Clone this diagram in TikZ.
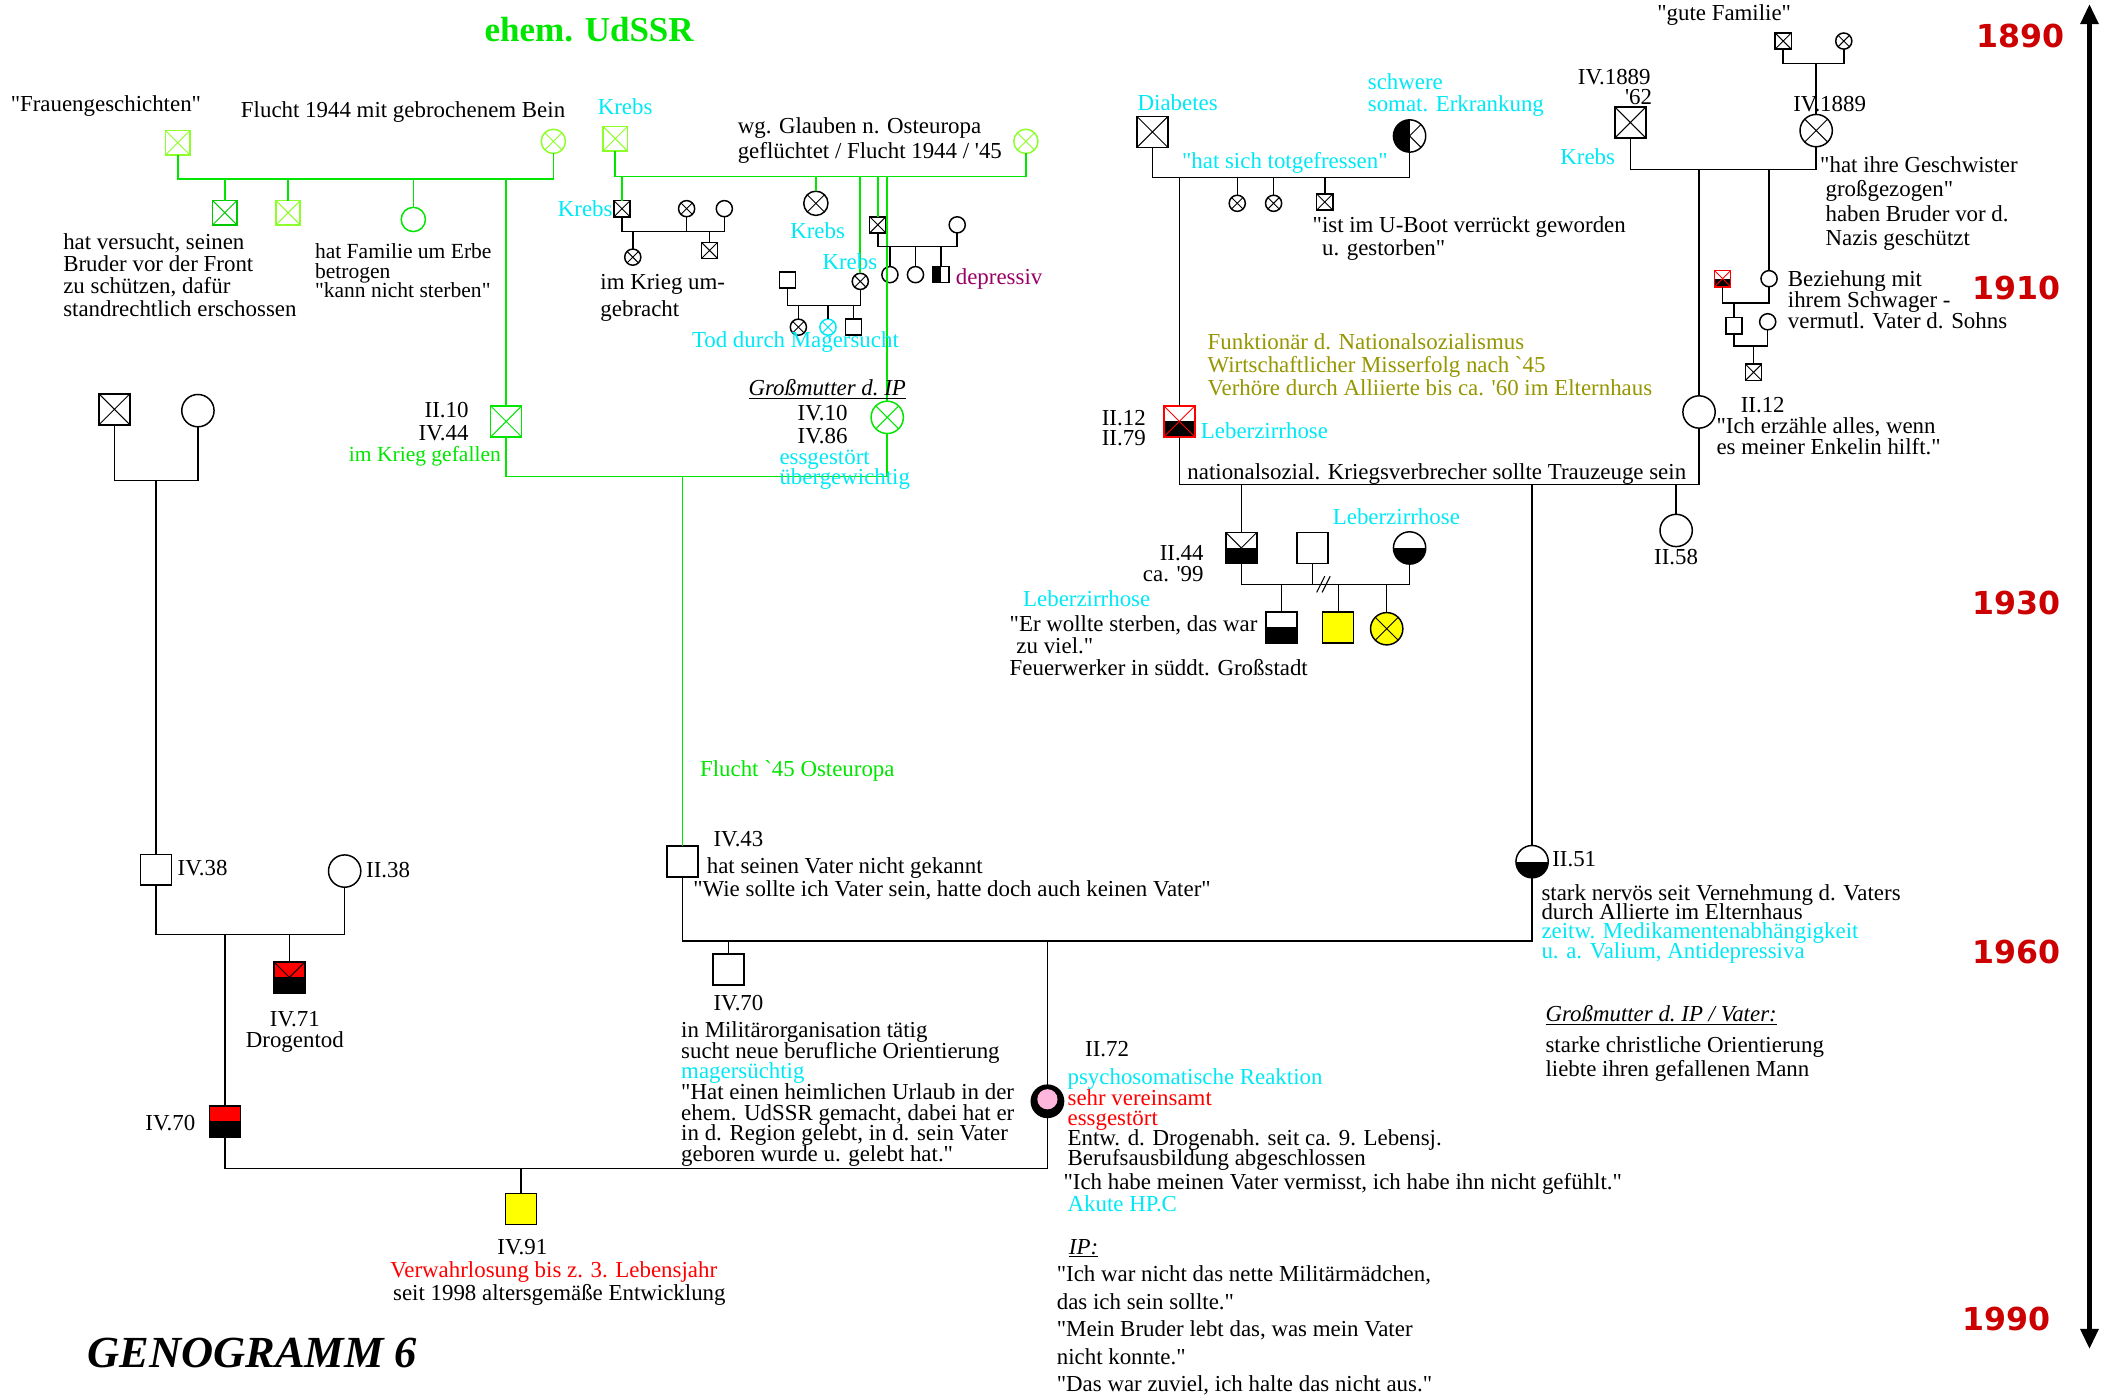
\documentclass[tikz,border=0pt]{standalone}
\usepackage{fontspec}
\setmainfont{Liberation Serif}[Ligatures=TeXOff]
\newfontfamily\yearfont{DejaVu Sans}
\usepackage{xcolor}
\usetikzlibrary{arrows.meta,positioning}

\definecolor{ggreen}{RGB}{0,230,0}
\definecolor{glight}{RGB}{140,255,40}
\definecolor{gdark}{RGB}{0,200,0}
\definecolor{kcyan}{RGB}{0,232,245}
\definecolor{purplered}{RGB}{153,0,102}
\definecolor{oliv}{RGB}{150,150,0}
\definecolor{yearred}{RGB}{204,0,0}
\definecolor{ippink}{RGB}{255,182,220}
\definecolor{gyellow}{RGB}{255,255,0}

\newcommand{\fs}[2]{\fontsize{#1}{#2}\selectfont\lineskiplimit=-50pt\lineskip=0pt\relax}
\newcommand{\gfont}{\fs{17}{16.5}}
\newcommand{\crosspp}[1]{\draw[#1,line width=0.7pt] (path picture bounding box.north west) -- (path picture bounding box.south east) (path picture bounding box.north east) -- (path picture bounding box.south west);}
\newcommand{\lowerpp}[1]{\fill[#1] (path picture bounding box.west) rectangle (path picture bounding box.south east);}
\newcommand{\upperpp}[1]{\fill[#1] (path picture bounding box.north west) rectangle (path picture bounding box.east);}
\newcommand{\leftpp}[1]{\fill[#1] (path picture bounding box.north west) rectangle (path picture bounding box.south);}

\tikzset{
    person/.style={draw, line width=1.1pt, inner sep=0pt, outer sep=0pt},
    male/.style={person, rectangle, minimum size=23pt},
    female/.style={person, circle, minimum size=24pt},
    midm/.style={male, minimum size=18pt},
    midf/.style={female, minimum size=18pt},
    smallm/.style={male, minimum size=12pt},
    smallf/.style={female, minimum size=12pt},
    dead/.style={path picture={\crosspp{#1}}},
    dead/.default=black,
    lowhalf/.style={path picture={\lowerpp{black}}},
    lowdead/.style={path picture={\lowerpp{black}\crosspp{#1}}},
    lowdead/.default=black,
    lefthalf/.style={path picture={\leftpp{black}}},
    leftdead/.style={path picture={\leftpp{black}\crosspp{black}}},
    redblack/.style={path picture={\upperpp{red}\lowerpp{black}}},
    redblackdead/.style={path picture={\upperpp{red}\lowerpp{black}\crosspp{black}}},
    redx/.style={draw=red, path picture={\lowerpp{black}\crosspp{red}}},
    ip/.style={fill=black, path picture={\fill[ippink] ([yshift=1.5pt]path picture bounding box.center) circle (7.5pt);}},
    bline/.style={line width=1.1pt},
    gline/.style={line width=1.2pt, draw=ggreen},
    lbl/.style={inner sep=0pt, outer sep=0pt, anchor=west, font=\gfont},
    blk/.style={lbl, anchor=north west, align=left},
    year/.style={lbl, text=yearred, font=\yearfont\bfseries\fontsize{23.5}{24}\selectfont}
}

\begin{document}
\begin{tikzpicture}[x=1pt,y=-1pt]
    \useasboundingbox (0,0) rectangle (1568,1039);

    % marriage lines
    \coordinate (mTL) at (0,133);
    \coordinate (mTM) at (0,131);
    \coordinate (mK1) at (0,172);
    \coordinate (mK7) at (0,227);
    \coordinate (mK12) at (0,183);
    \coordinate (mGrand) at (0,354);
    \coordinate (mP) at (0,357);
    \coordinate (mIV38) at (0,694);
    \coordinate (mIV43) at (0,699);
    \coordinate (mIP) at (0,868);
    \coordinate (mRA) at (0,132);
    \coordinate (mII12) at (0,360);
    \coordinate (mII44) at (0,434);
    \coordinate (mGute) at (0,47);
    \coordinate (m1889) at (0,126);
    \coordinate (mU) at (0,225);
    \coordinate (mU3) at (0,257);

    % persons
    \node[midm, draw=glight, dead=glight] (gA) at (132,106) {};
    \node[midf, draw=glight, dead=glight] (gB) at (411,105) {};
    \node[midm, draw=gdark, dead=gdark] (gC) at (167,158) {};
    \node[midm, draw=glight, dead=glight] (gD) at (214,158) {};
    \node[midf, draw=ggreen] (gE) at (307,163) {};
    \node[male, draw=ggreen, dead=ggreen] (II10) at (376,313) {};

    \node[midm, draw=glight, dead=glight] (gF) at (457,103) {};
    \node[midf, draw=glight, dead=glight] (gG) at (762,105) {};
    \node[smallm, dead] (k1) at (462,155) {};
    \node[smallf, dead] (k2) at (510,155) {};
    \node[smallf] (k3) at (538,155) {};
    \node[smallf, dead] (k4) at (470,191) {};
    \node[smallm, dead] (k5) at (527,186) {};
    \node[midf, dead] (k6) at (606,151) {};
    \node[smallf, dead] (k7) at (639,209) {};
    \node[smallm] (k8) at (585,208) {};
    \node[smallf, dead] (k9) at (593,243) {};
    \node[smallf, draw=kcyan, dead=kcyan] (k10) at (615,243) {};
    \node[smallm] (k11) at (634,243) {};
    \node[smallm, dead] (k12) at (652,167) {};
    \node[smallf] (k13) at (711,167) {};
    \node[smallf] (k14) at (661,204) {};
    \node[smallf] (k15) at (680,204) {};
    \node[smallm, lefthalf] (k16) at (699,204) {};
    \node[female, draw=ggreen, dead=ggreen] (IV10) at (659,310) {};

    \node[male, dead] (p1) at (85,304) {};
    \node[female] (p2) at (147,305) {};
    \node[male] (IV38) at (116,646) {};
    \node[female] (II38) at (256,647) {};
    \node[male, redblackdead] (IV71) at (215,726) {};
    \node[male, redblack] (IV70L) at (167,833) {};
    \node[male, fill=gyellow] (IV91) at (387,898) {};
    \node[male] (IV43) at (507,640) {};
    \node[male] (IV70M) at (541,720) {};
    \node[female, ip] (II72) at (778,818) {};

    \node[male, dead] (rA) at (856,98) {};
    \node[female, leftdead] (rB) at (1047,101) {};
    \node[smallf, dead] (r1) at (919,151) {};
    \node[smallf, dead] (r2) at (946,151) {};
    \node[smallm, dead] (r3) at (984,150) {};
    \node[male, redx] (II12L) at (876,313) {};
    \node[female] (II12R) at (1262,306) {};
    \node[female] (II58) at (1245,394) {};
    \node[female, lowhalf] (II51) at (1138,640) {};
    \node[male, lowdead] (II44) at (922,407) {};
    \node[male] (s1) at (975,407) {};
    \node[female, lowhalf] (c1) at (1047,407) {};
    \node[male, lowhalf] (q1) at (952,466) {};
    \node[male, fill=gyellow] (q2) at (994,466) {};
    \node[female, fill=gyellow, dead] (q3) at (1030,467) {};

    \node[smallm, dead] (tA) at (1324.5,30.5) {};
    \node[smallf, dead] (tB) at (1369.5,30.5) {};
    \node[male, dead] (IV1889L) at (1211,91) {};
    \node[female, dead] (IV1889R) at (1349,97) {};
    \node[smallf] (u1) at (1314,207) {};
    \node[smallm, redx] (u2) at (1279.5,207) {};
    \node[smallm] (u3) at (1288,242) {};
    \node[smallf] (u4) at (1313,239) {};
    \node[smallm, dead] (u5) at (1302.5,276.5) {};

    % green lines
    \draw[gline] (gA) -- (gA |- mTL) -| (gB);
    \draw[gline] (gC) -- (gC |- mTL);
    \draw[gline] (gD) -- (gD |- mTL);
    \draw[gline] (gE) -- (gE |- mTL);
    \draw[gline] (II10) -- (II10 |- mTL);
    \draw[gline] (II10) -- (II10 |- mGrand) -| (IV10);
    \draw[gline] (IV43) -- (IV43 |- mGrand);
    \draw[gline] (gF) -- (gF |- mTM) -| (gG);
    \draw[gline] (k1) -- (k1 |- mTM);
    \draw[gline] (k6) -- (k6 |- mTM);
    \draw[gline] (k7) -- (k7 |- mTM);
    \draw[gline] (k12) -- (k12 |- mTM);
    \draw[gline] (IV10) -- (IV10 |- mTM);

    % black lines
    \draw[bline] (k1) -- (k1 |- mK1) -| (k3);
    \draw[bline] (k2) -- (k2 |- mK1);
    \draw[bline] (k4) -- (k4 |- mK1);
    \draw[bline] (k5) -- (k5 |- mK1);
    \draw[bline] (k8) -- (k8 |- mK7) -| (k7);
    \draw[bline] (k9) -- (k9 |- mK7);
    \draw[bline] (k10) -- (k10 |- mK7);
    \draw[bline] (k11) -- (k11 |- mK7);
    \draw[bline] (k12) -- (k12 |- mK12) -| (k13);
    \draw[bline] (k14) -- (k14 |- mK12);
    \draw[bline] (k15) -- (k15 |- mK12);
    \draw[bline] (k16) -- (k16 |- mK12);

    \draw[bline] (p1) -- (p1 |- mP) -| (p2);
    \draw[bline] (IV38) -- (IV38 |- mP);
    \draw[bline] (IV38) -- (IV38 |- mIV38) -| (II38);
    \draw[bline] (IV70L) -- (IV70L |- mIV38);
    \draw[bline] (IV71) -- (IV71 |- mIV38);
    \draw[bline] (IV70L) -- (IV70L |- mIP) -| (II72);
    \draw[bline] (IV91) -- (IV91 |- mIP);
    \draw[bline] (IV43) -- (IV43 |- mIV43) -| (II51);
    \draw[bline] (IV70M) -- (IV70M |- mIV43);
    \draw[bline] (II72) -- (II72 |- mIV43);

    \draw[bline] (rA) -- (rA |- mRA) -| (rB);
    \draw[bline] (r1) -- (r1 |- mRA);
    \draw[bline] (r2) -- (r2 |- mRA);
    \draw[bline] (r3) -- (r3 |- mRA);
    \draw[bline] (II12L) -- (II12L |- mRA);
    \draw[bline] (II12L) -- (II12L |- mII12) -| (II12R);
    \draw[bline] (II44) -- (II44 |- mII12);
    \draw[bline] (II51) -- (II51 |- mII12);
    \draw[bline] (II58) -- (II58 |- mII12);
    \draw[bline] (II44) -- (II44 |- mII44) -| (c1);
    \draw[bline] (s1) -- (s1 |- mII44);
    \draw[bline] (q1) -- (q1 |- mII44);
    \draw[bline] (q2) -- (q2 |- mII44);
    \draw[bline] (q3) -- (q3 |- mII44);
    \coordinate (div) at (983,434);
    \draw[line width=0.8pt] ([xshift=-5pt,yshift=-6pt]div) -- ([xshift=1pt,yshift=6pt]div)
        ([xshift=-1pt,yshift=-6pt]div) -- ([xshift=5pt,yshift=6pt]div);

    \draw[bline] (tA) -- (tA |- mGute) -| (tB);
    \draw[bline] (IV1889R) -- (IV1889R |- mGute);
    \draw[bline] (IV1889L) -- (IV1889L |- m1889) -| (IV1889R);
    \draw[bline] (II12R) -- (II12R |- m1889);
    \draw[bline] (u1) -- (u1 |- m1889);
    \draw[bline] (u2) -- (u2 |- mU) -| (u1);
    \draw[bline] (u3) -- (u3 |- mU);
    \draw[bline] (u3) -- (u3 |- mU3) -| (u4);
    \draw[bline] (u5) -- (u5 |- mU3);

    % time axis
    \coordinate (tTop) at (1552,3);
    \coordinate (tBot) at (1552,1002);
    \draw[{Triangle[width=13pt,length=15pt]}-{Triangle[width=13pt,length=15pt]}, line width=3.5pt] (tTop) -- (tBot);
    \node[year] (y1890) at (1468,27) {1890};
    \node[year] (y1910) at (1465,214) {1910};
    \node[year] (y1930) at (1465,448) {1930};
    \node[year] (y1960) at (1465,707) {1960};
    \node[year] (y1990) at (1458,980) {1990};

    % texts, top left
    \node[lbl, text=ggreen, font=\bfseries\fontsize{26}{26}\selectfont] (udssr) at (360,22) {ehem. UdSSR};
    \node[lbl] (tFrau) at (8,79) {"Frauengeschichten"};
    \node[lbl] (tFlucht) at (179,83) {Flucht 1944 mit gebrochenem Bein};
    \node[blk] (tBruder) at (47,173.5) {hat versucht, seinen\\Bruder vor der Front\\zu schützen, dafür\\standrechtlich erschossen};
    \node[blk, font=\fs{16}{14.5}] (tErbe) at (234,181) {hat Familie um Erbe\\betrogen\\"kann nicht sterben"};
    \node[blk, anchor=north east, align=right, font=\fs{17}{17}] (tII10) at (348,299) {II.10\\IV.44};
    \node[lbl, anchor=east, text=ggreen, font=\fs{16}{16}] (tGefallen) at (372,339) {im Krieg gefallen};

    % texts, top middle
    \node[lbl, text=kcyan] (tKrebs1) at (444,79) {Krebs};
    \node[blk, font=\fs{17}{19}] (tGlauben) at (548,87) {wg. Glauben n. Osteuropa\\geflüchtet / Flucht 1944 / '45};
    \node[lbl, anchor=east, text=kcyan] (tKrebs2) at (455,155) {Krebs};
    \node[blk, font=\fs{17}{20}] (tUmgebracht) at (446,204) {im Krieg um-\\gebracht};
    \node[lbl, text=kcyan] (tKrebs3) at (587,171) {Krebs};
    \node[lbl, text=kcyan] (tKrebs4) at (611,194) {Krebs};
    \node[lbl, text=kcyan] (tMager) at (514,254) {Tod durch Magersucht};
    \node[lbl, text=purplered] (tDepr) at (710,207) {depressiv};
    \node[lbl] (tGrossIP) at (556,289) {\underline{\itshape Großmutter d.\ IP}};
    \node[blk, anchor=north, align=center, font=\fs{17}{17}] (tIV10) at (611,301) {IV.10\\IV.86};
    \node[blk, text=kcyan, font=\fs{17}{15}] (tEss) at (579,334) {essgestört\\übergewichtig};
    \node[lbl, text=ggreen] (tFlucht45) at (520,573) {Flucht `45 Osteuropa};

    % texts, IV.43 and IP
    \node[lbl] (tIV43) at (530,623) {IV.43};
    \node[lbl] (tVater1) at (525,645) {hat seinen Vater nicht gekannt};
    \node[lbl] (tVater2) at (515,661) {"Wie sollte ich Vater sein, hatte doch auch keinen Vater"};
    \node[lbl] (tIV70M) at (530,745) {IV.70};
    \node[blk, font=\fs{17}{15.3}] (tMilitaer) at (506,759) {in Militärorganisation tätig\\sucht neue berufliche Orientierung\\\textcolor{kcyan}{magersüchtig}\\"Hat einen heimlichen Urlaub in der\\ehem. UdSSR gemacht, dabei hat er\\in d. Region gelebt, in d. sein Vater\\geboren wurde u. gelebt hat."};
    \node[lbl] (tII72) at (806,779) {II.72};
    \node[blk, font=\fs{17}{15}] (tPsycho) at (793,794) {\textcolor{kcyan}{psychosomatische Reaktion}\\\textcolor{red}{sehr vereinsamt}\\\textcolor{red}{essgestört}\\Entw. d. Drogenabh. seit ca. 9. Lebensj.\\Berufsausbildung abgeschlossen};
    \node[lbl] (tVermisst) at (790,879) {"Ich habe meinen Vater vermisst, ich habe ihn nicht gefühlt."};
    \node[lbl, text=kcyan] (tHPC) at (793,894) {Akute HP.C};
    \node[lbl] (tIP) at (794,927) {\underline{\itshape IP:}};
    \node[blk, font=\fs{17}{20.5}] (tIPquote) at (785,940) {"Ich war nicht das nette Militärmädchen,\\das ich sein sollte."\\"Mein Bruder lebt das, was mein Vater\\nicht konnte."\\"Das war zuviel, ich halte das nicht aus."};

    % texts, left bottom
    \node[lbl] (tIV38) at (132,645) {IV.38};
    \node[lbl] (tII38) at (272,646) {II.38};
    \node[blk, anchor=north, align=center, font=\fs{17}{16}] (tIV71) at (219,751) {IV.71\\Drogentod};
    \node[lbl, anchor=east] (tIV70L) at (145,834) {IV.70};
    \node[lbl, anchor=center] (tIV91) at (388,926) {IV.91};
    \node[lbl, text=red] (tVerw) at (290,945) {Verwahrlosung bis z. 3. Lebensjahr};
    \node[lbl] (tSeit) at (292,962) {seit 1998 altersgemäße Entwicklung};
    \node[lbl, font=\bfseries\itshape\fontsize{33}{33}\selectfont] (tGeno) at (65,1005) {GENOGRAMM 6};

    % texts, right middle
    \node[lbl, text=kcyan] (tDiab) at (845,76) {Diabetes};
    \node[blk, text=kcyan, font=\fs{17}{16}] (tSchwer) at (1016,55) {schwere\\somat. Erkrankung};
    \node[lbl, text=kcyan] (tTot) at (878,121) {"hat sich totgefressen"};
    \node[blk, font=\fs{17}{17}] (tUBoot) at (975,161) {"ist im U-Boot verrückt geworden\\\hspace*{7pt}u. gestorben"};
    \node[blk, text=oliv, font=\fs{17}{17}] (tNazi) at (897,248) {Funktionär d. Nationalsozialismus\\Wirtschaftlicher Misserfolg nach `45\\Verhöre durch Alliierte bis ca. '60 im Elternhaus};
    \node[blk, anchor=north east, align=right, font=\fs{17}{15}] (tII12L) at (851,305) {II.12\\II.79};
    \node[lbl, text=kcyan] (tLeber1) at (892,320) {Leberzirrhose};
    \node[lbl] (tTrau) at (882,352) {nationalsozial. Kriegsverbrecher sollte Trauzeuge sein};
    \node[blk, anchor=north east, align=right, font=\fs{17}{16}] (tII44) at (894,405) {II.44\\ca. '99};
    \node[lbl, text=kcyan] (tLeber2) at (990,384) {Leberzirrhose};
    \node[lbl, text=kcyan] (tLeber3) at (760,445) {Leberzirrhose};
    \node[blk] (tSterben) at (750,457) {"Er wollte sterben, das war\\\hspace*{5pt}zu viel."\\Feuerwerker in süddt. Großstadt};
    \node[lbl, anchor=center] (tII58) at (1245,414) {II.58};
    \node[lbl] (tII51) at (1153,638) {II.51};
    \node[blk, font=\fs{17}{14.3}] (tNervoes) at (1145,657) {stark nervös seit Vernehmung d. Vaters\\durch Allierte im Elternhaus\\\textcolor{kcyan}{zeitw. Medikamentenabhängigkeit}\\\textcolor{kcyan}{u. a. Valium, Antidepressiva}};
    \node[lbl] (tGrossV) at (1148,754) {\underline{\itshape Großmutter d.\ IP / Vater:}};
    \node[blk, font=\fs{17}{18}] (tChrist) at (1148,770) {starke christliche Orientierung\\liebte ihren gefallenen Mann};

    % texts, top right
    \node[lbl] (tGute) at (1231,11) {"gute Familie"};
    \node[lbl] (tIV1889L) at (1172,57) {IV.1889};
    \node[lbl] (t62) at (1207,72) {'62};
    \node[lbl, text=kcyan] (tKrebs5) at (1159,116) {Krebs};
    \node[lbl] (tIV1889R) at (1332,77) {IV.1889};
    \node[blk, font=\fs{17}{18.3}] (tGeschw) at (1352,116) {"hat ihre Geschwister\\\hspace*{4pt}großgezogen"\\\hspace*{4pt}haben Bruder vor d.\\\hspace*{4pt}Nazis geschützt};
    \node[blk, font=\fs{17}{15.5}] (tBez) at (1328,201) {Beziehung mit\\ihrem Schwager -\\vermutl. Vater d. Sohns};
    \node[lbl] (tII12R) at (1293,301) {II.12};
    \node[blk, font=\fs{17}{16}] (tErz) at (1275,310) {"Ich erzähle alles, wenn\\es meiner Enkelin hilft."};
\end{tikzpicture}
\end{document}
